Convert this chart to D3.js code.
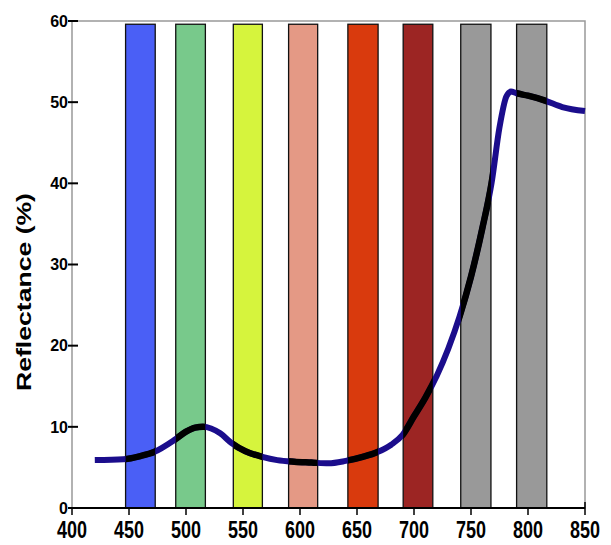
<!DOCTYPE html>
<meta charset="utf-8">
<style>
body { margin: 0; background: #fff; }
.tick-y { font: bold 16px "Liberation Sans Narrow", "Arial Narrow", sans-serif; }
.tick-x { font: bold 18px "Liberation Sans Narrow", "Arial Narrow", sans-serif; }
</style>
<svg width="611" height="545"></svg>
<script src="https://d3js.org/d3.v7.min.js"></script>
<script>

// wavelength (nm) and reflectance (%)
var wavelength = [420, 445, 460, 472, 490, 500, 508, 515, 522, 530, 540, 552, 567, 580, 595, 610, 625, 640, 655, 668, 680, 690, 700, 710, 720, 730, 740, 750, 760, 768, 775, 781, 785, 790, 800, 815, 830, 850];
var reflectance = [5.9, 6.0, 6.4, 6.9, 8.4, 9.4, 9.9, 10.0, 9.8, 9.2, 8.0, 7.0, 6.3, 5.9, 5.7, 5.6, 5.5, 5.8, 6.3, 6.9, 7.8, 9.0, 11.3, 13.6, 16.3, 19.6, 23.6, 28.5, 34.5, 40.0, 46.9, 50.7, 51.3, 51.1, 50.8, 50.2, 49.4, 48.9];

// spectral bands
var bandStart = [447, 491, 541.5, 590, 642, 690.5, 741, 790];
var bandEnd = [473, 517, 567, 615.5, 668.5, 716.5, 767.5, 816.5];
var bandColors = ["#4a5ff6", "#78c98b", "#d6f43d", "#e49985", "#d93a0d", "#9c2523", "#999999", "#999999"];
var bandTop = 59.6;

var xTicks = [400, 450, 500, 550, 600, 650, 700, 750, 800, 850];
var yTicks = [0, 10, 20, 30, 40, 50, 60];

var svg = d3.select("svg"),
    margin = {top: 21, right: 26, bottom: 37, left: 72},
    width = svg.attr("width") - margin.left - margin.right,
    height = svg.attr("height") - margin.top - margin.bottom,
    g = svg.append("g").attr("transform", "translate(" + margin.left + "," + margin.top + ")");

var x = d3.scaleLinear().domain([400, 850]).range([0, width]),
    y = d3.scaleLinear().domain([0, 60]).range([height, 0]);

var bands = bandStart.map(function(s, i) { return {start: s, end: bandEnd[i], color: bandColors[i]}; });
var points = wavelength.map(function(w, i) { return {w: w, r: reflectance[i]}; });

// frame
g.append("rect")
    .attr("width", width)
    .attr("height", height)
    .attr("fill", "none")
    .attr("stroke", "#999")
    .attr("stroke-width", 1.5);

// bars
g.selectAll(".band")
  .data(bands)
  .enter().append("rect")
    .attr("class", "band")
    .attr("x", function(d) { return x(d.start); })
    .attr("y", y(bandTop))
    .attr("width", function(d) { return x(d.end) - x(d.start); })
    .attr("height", y(0) - y(bandTop))
    .attr("fill", function(d) { return d.color; })
    .attr("stroke", "#111")
    .attr("stroke-width", 1.3);

// clip for black curve inside bars
var clip = svg.append("defs").append("clipPath").attr("id", "bandclip");
clip.selectAll("rect")
  .data(bands)
  .enter().append("rect")
    .attr("x", function(d) { return x(d.start); })
    .attr("y", y(bandTop))
    .attr("width", function(d) { return x(d.end) - x(d.start); })
    .attr("height", y(0) - y(bandTop));

var line = d3.line()
    .curve(d3.curveMonotoneX)
    .x(function(d) { return x(d.w); })
    .y(function(d) { return y(d.r); });

g.append("path")
    .datum(points)
    .attr("d", line)
    .attr("fill", "none")
    .attr("stroke", "#1b0d8c")
    .attr("stroke-width", 6);

g.append("path")
    .datum(points)
    .attr("d", line)
    .attr("fill", "none")
    .attr("stroke", "#000")
    .attr("stroke-width", 6.5)
    .attr("clip-path", "url(#bandclip)");

// x axis
var xAxis = g.append("g").attr("transform", "translate(0," + height + ")");
xAxis.append("line")
    .attr("x1", 0).attr("x2", width)
    .attr("stroke", "#000").attr("stroke-width", 2);
var xt = xAxis.selectAll(".xt")
  .data(xTicks)
  .enter().append("g")
    .attr("transform", function(d) { return "translate(" + x(d) + ",0)"; });
xt.append("line")
    .attr("y1", function(d) { return d === 850 ? -6 : 0; })
    .attr("y2", 7)
    .attr("stroke", "#000")
    .attr("stroke-width", 1.5);
xt.append("text")
    .attr("class", "tick-x")
    .attr("text-anchor", "middle")
    .attr("transform", "translate(0,30) scale(1,1.3)")
    .text(function(d) { return d; });

// y axis
var yAxis = g.append("g");
var yt = yAxis.selectAll(".yt")
  .data(yTicks)
  .enter().append("g")
    .attr("transform", function(d) { return "translate(0," + y(d) + ")"; });
yt.append("line")
    .attr("x1", -4)
    .attr("x2", 6)
    .attr("stroke", "#000")
    .attr("stroke-width", 2);
yt.append("text")
    .attr("class", "tick-y")
    .attr("text-anchor", "end")
    .attr("x", -4)
    .attr("dy", "0.36em")
    .text(function(d) { return d; });

svg.append("text")
    .attr("transform", "translate(31,292) rotate(-90) scale(1.33,1)")
    .attr("text-anchor", "middle")
    .style("font", "bold 20px 'Liberation Sans', Arial, sans-serif")
    .text("Reflectance (%)");

</script>
